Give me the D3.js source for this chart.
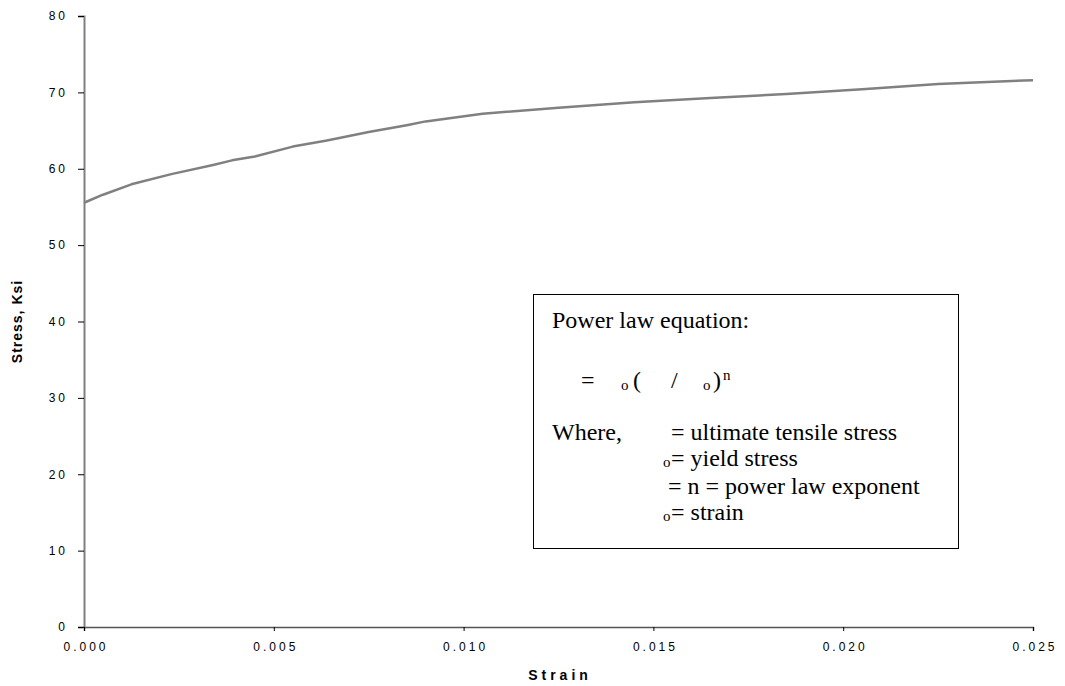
<!DOCTYPE html>
<html>
<head>
<meta charset="utf-8">
<script src="https://cdn.jsdelivr.net/npm/d3@7"></script>
<style>
  html, body { margin: 0; padding: 0; background: #fff; }
  svg { display: block; }
  .tick text { font-family: Arial, "Liberation Sans", sans-serif; font-size: 12px; letter-spacing: 3px; fill: #000; }
  .box text { font-family: "Times New Roman", "Liberation Serif", serif; font-size: 24px; fill: #000; }
</style>
</head>
<body>
<svg id="chart" width="1065" height="686"></svg>
<script>
// Stress–strain curve (strain, stress in ksi)
const strain = [0, 0.0005, 0.00125, 0.0023, 0.0034, 0.0039, 0.0045, 0.0055, 0.0064, 0.0075,
                0.0085, 0.009, 0.0105, 0.0125, 0.0145, 0.0165, 0.0185, 0.0205, 0.0225, 0.025];
const stress = [55.55, 56.6, 57.96, 59.3, 60.5, 61.1, 61.6, 62.9, 63.7, 64.8,
                65.7, 66.2, 67.2, 68.0, 68.7, 69.25, 69.8, 70.4, 71.1, 71.6];

const xTicks = [0, 0.005, 0.010, 0.015, 0.020, 0.025];
const yTicks = [0, 10, 20, 30, 40, 50, 60, 70, 80];

(function () {
  const svg = d3.select("#chart");
  const m = { left: 84, right: 1033, top: 16, bottom: 627 };

  const x = d3.scaleLinear().domain([0, 0.025]).range([m.left, m.right]);
  const y = d3.scaleLinear().domain([0, 80]).range([m.bottom, m.top]);

  // Y axis
  const yAxis = svg.append("g")
    .attr("transform", `translate(${m.left},0)`)
    .call(d3.axisLeft(y).tickValues(yTicks).tickFormat(d3.format("d")).tickSize(6).tickPadding(10));
  yAxis.select(".domain").attr("stroke", "#808080").attr("stroke-width", 2);
  yAxis.selectAll(".tick line").attr("stroke", "#000");

  // X axis
  const xAxis = svg.append("g")
    .attr("transform", `translate(0,${m.bottom})`)
    .call(d3.axisBottom(x).tickValues(xTicks).tickFormat(d3.format(".3f")).tickSize(4).tickPadding(11));
  xAxis.select(".domain").attr("stroke", "#555").attr("stroke-width", 1.5);
  xAxis.selectAll(".tick line").attr("stroke", "#000");
  xAxis.selectAll(".tick text").attr("dx", "1.5px");

  // Curve
  const pts = strain.map((s, i) => [s, stress[i]]);
  svg.append("path")
    .datum(pts)
    .attr("fill", "none")
    .attr("stroke", "#808080")
    .attr("stroke-width", 2.5)
    .attr("stroke-linejoin", "round")
    .attr("d", d3.line().x(d => x(d[0])).y(d => y(d[1])));

  // Axis titles
  svg.append("text")
    .attr("transform", `translate(22,${(m.top + m.bottom) / 2}) rotate(-90)`)
    .attr("text-anchor", "middle")
    .style("font-family", "Arial, 'Liberation Sans', sans-serif")
    .style("font-size", "14px").style("font-weight", "bold")
    .style("letter-spacing", "1px")
    .text("Stress, Ksi");

  svg.append("text")
    .attr("x", 560).attr("y", 680)
    .attr("text-anchor", "middle")
    .style("font-family", "Arial, 'Liberation Sans', sans-serif")
    .style("font-size", "14px").style("font-weight", "bold")
    .style("letter-spacing", "4px")
    .text("Strain");

  // Equation box
  const box = svg.append("g").attr("class", "box");
  box.append("rect")
    .attr("x", 533.5).attr("y", 294.5).attr("width", 425).attr("height", 254)
    .attr("fill", "#fff").attr("stroke", "#000").attr("stroke-width", 1);

  const pieces = [
    { t: "Power law equation:", x: 552, y: 328 },
    { t: "=", x: 581, y: 388 },
    { t: "o", x: 621, y: 390, small: true },
    { t: "(", x: 633, y: 388 },
    { t: "/", x: 671, y: 388 },
    { t: "o", x: 703, y: 390, small: true },
    { t: ")", x: 713, y: 388 },
    { t: "n", x: 723, y: 380, small: true },
    { t: "Where,", x: 552, y: 440 },
    { t: "= ultimate tensile stress", x: 671, y: 440 },
    { t: "o", x: 663, y: 467, small: true },
    { t: "= yield stress", x: 671, y: 466 },
    { t: "= n = power law exponent", x: 668, y: 494 },
    { t: "o", x: 663, y: 521, small: true },
    { t: "= strain", x: 671, y: 520 }
  ];
  box.selectAll("text.piece")
    .data(pieces)
    .join("text")
    .attr("class", "piece")
    .attr("x", d => d.x).attr("y", d => d.y)
    .style("font-size", d => d.small ? "15px" : "24px")
    .text(d => d.t);
})();
</script>
</body>
</html>
